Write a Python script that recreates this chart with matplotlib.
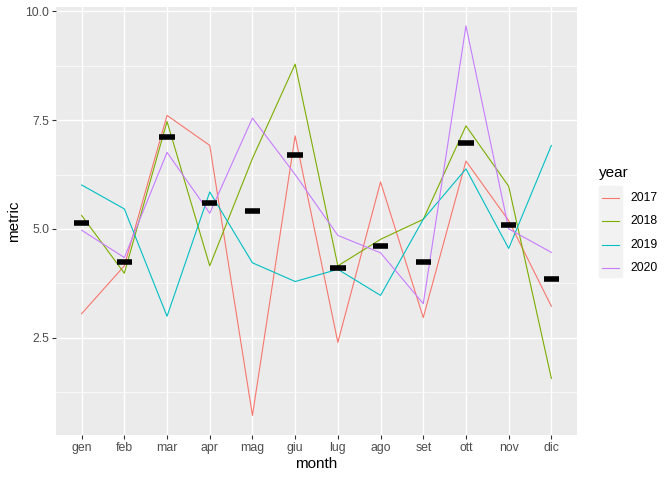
import matplotlib.pyplot as plt
import matplotlib.patches as mpatches
import numpy as np

plt.rcParams['font.family'] = ['Liberation Sans', 'DejaVu Sans']

# months and yearly series
months = ["gen", "feb", "mar", "apr", "mag", "giu", "lug", "ago", "set", "ott", "nov", "dic"]
years = ["2017", "2018", "2019", "2020"]
y2017 = [3.05, 4.15, 7.61, 6.92, 0.71, 7.14, 2.39, 6.08, 2.96, 6.56, 5.19, 3.22]
y2018 = [5.31, 3.98, 7.47, 4.15, 6.62, 8.79, 4.15, 4.76, 5.22, 7.37, 5.98, 1.56]
y2019 = [6.01, 5.46, 2.99, 5.85, 4.22, 3.79, 4.07, 3.47, 5.22, 6.38, 4.55, 6.92]
y2020 = [4.97, 4.34, 6.76, 5.36, 7.55, 6.25, 4.85, 4.45, 3.28, 9.67, 5.0, 4.46]
colors = ["#F8766D", "#7CAE00", "#00BFC4", "#C77CFF"]

series = [y2017, y2018, y2019, y2020]
x = np.arange(len(months))
medians = np.median(np.array(series), axis=0)

fig = plt.figure(figsize=(6.72, 4.8), dpi=100)
ax = fig.add_axes([56/672, 1-435/480, (577-56)/672, (435-6.7)/480])
ax.set_facecolor("#EBEBEB")

for vals, c, yr in zip(series, colors, years):
    ax.plot(x, vals, color=c, lw=0.8, label=yr)

# median markers
ax.hlines(medians, x - 0.18, x + 0.18, colors="black", lw=4, zorder=5)

ax.set_xlim(-0.6, 11.6)
ax.set_ylim(0.26, 10.11)
ax.set_xticks(x)
ax.set_xticklabels(months)
ax.set_yticks([2.5, 5.0, 7.5, 10.0])
ax.set_yticklabels(["2.5", "5.0", "7.5", "10.0"])
ax.set_yticks([1.25, 3.75, 6.25, 8.75], minor=True)
ax.grid(True, which="major", color="white", lw=1.0)
ax.grid(True, which="minor", axis="y", color="white", lw=0.5)
ax.set_axisbelow(True)
for s in ax.spines.values():
    s.set_visible(False)
ax.tick_params(axis="both", which="major", colors="#333333", length=3,
               width=0.8, labelsize=8.8, labelcolor="#4D4D4D", pad=2)
ax.tick_params(axis="y", which="minor", length=0)
ax.set_xlabel("month", fontsize=11, labelpad=2)
ax.set_ylabel("metric", fontsize=11, labelpad=3)

# legend
fig.patches.append(mpatches.Rectangle((599/672, 1-277/480), 23/672, 91/480,
                                      transform=fig.transFigure, color="#F2F2F2", zorder=0))
fig.text(599/672, 1-173/480, "year", fontsize=11, va="center", ha="left")
for i, (c, yr) in enumerate(zip(colors, years)):
    yy = 1 - (198 + i * 23.3) / 480
    fig.add_artist(plt.Line2D([602/672, 619/672], [yy, yy], color=c, lw=0.8,
                              transform=fig.transFigure))
    fig.text(630/672, yy, yr, fontsize=8.8, va="center", ha="left")

fig.savefig("out.png", dpi=100)
